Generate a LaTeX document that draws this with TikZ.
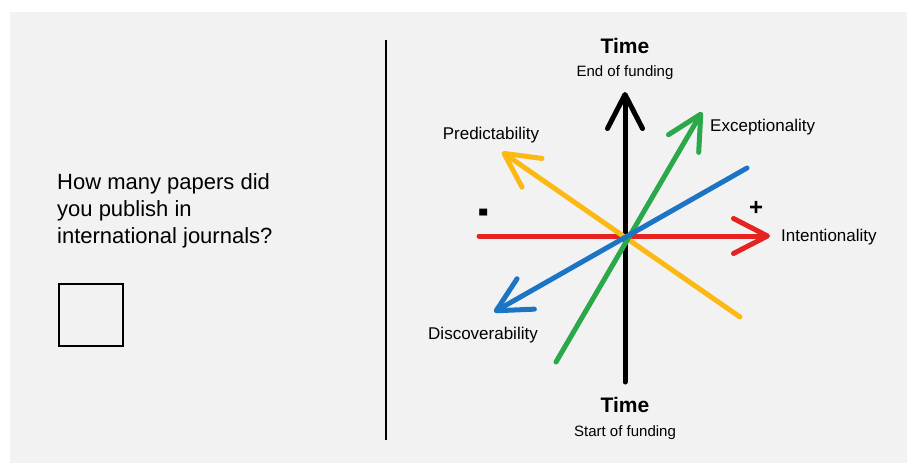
\documentclass[tikz,border=0pt]{standalone}
\usepackage{fontspec}
\setmainfont{Liberation Sans}
\usetikzlibrary{arrows.meta}
\definecolor{panel}{HTML}{F2F2F2}
\definecolor{cred}{HTML}{E52421}
\definecolor{cgreen}{HTML}{2BA84A}
\definecolor{cblue}{HTML}{1C74C4}
\definecolor{cyellow}{HTML}{FDB913}
\tikzset{
  axis/.style={line width=5pt, line cap=round, line join=round},
  arr/.style={axis, -{Straight Barb[length=34pt, width=35pt, line cap=round, line join=round]}},
  lbl/.style={inner sep=0pt, font=\fontsize{17}{19}\selectfont},
  sub/.style={inner sep=0pt, font=\fontsize{15}{17}\selectfont},
  ttl/.style={inner sep=0pt, font=\fontsize{21}{24}\selectfont\bfseries},
  qtxt/.style={inner sep=0pt, anchor=base west, font=\fontsize{22}{27}\selectfont},
  sgn/.style={inner sep=0pt, font=\fontsize{24}{26}\selectfont\bfseries},
}
\begin{document}
\begin{tikzpicture}[x=1pt,y=-1pt]
\useasboundingbox (0,0) rectangle (915,468);
\fill[white] (0,0) rectangle (915,468);
\fill[panel] (10,12) rectangle (907,463);
% divider
\draw[line width=1.5pt] (386,40) -- (386,440);
% question
\node[qtxt] (q1) at (57,189) {How many papers did};
\node[qtxt] (q2) at (57,216) {you publish in};
\node[qtxt] (q3) at (57,243) {international journals?};
\node[draw, line width=2pt, minimum width=64pt, minimum height=62pt, inner sep=0pt, anchor=north west] (box) at (58,283) {};
% coordinates
\coordinate (c) at (625,236);
\coordinate (bk0) at (625,382); \coordinate (bk1) at (625,92);
\coordinate (r0) at (479,236); \coordinate (r1) at (770,236);
\coordinate (g0) at (556,362); \coordinate (g1) at (702,112);
\coordinate (b0) at (747,168); \coordinate (b1) at (494,312);
\coordinate (y0) at (740,317); \coordinate (y1) at (502,152);
% axes
\draw[arr, black] (bk0) -- (bk1);
\draw[arr, cred] (r0) -- (r1);
\draw[arr, cyellow] (y0) -- (y1);
\draw[arr, cgreen] (g0) -- (g1);
\draw[arr, cblue] (b0) -- (b1);
% labels
\node[ttl] (t1) at (625,46) {Time};
\node[sub] (s1) at (625,73) {End of funding};
\node[ttl] (t2) at (625,405) {Time};
\node[sub] (s2) at (625,433) {Start of funding};
\node[lbl] (lp) at (491,135) {Predictability};
\node[lbl, anchor=west] (le) at (710,127) {Exceptionality};
\node[lbl, anchor=west] (li) at (781,237) {Intentionality};
\node[lbl] (ld) at (483,335) {Discoverability};
\node[sgn] (mn) at (484,218) {\scalebox{1.3}[2.4]{-}};
\node[sgn] (pl) at (756,208) {+};
\end{tikzpicture}
\end{document}
